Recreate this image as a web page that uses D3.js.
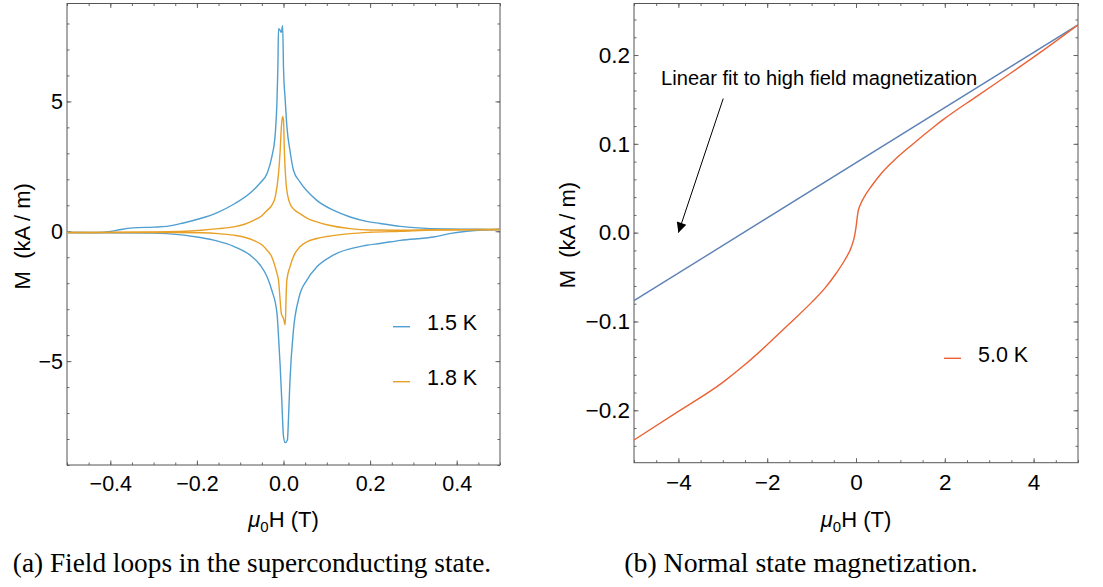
<!DOCTYPE html>
<html>
<head>
<meta charset="utf-8">
<script src="https://cdnjs.cloudflare.com/ajax/libs/d3/7.8.5/d3.min.js"></script>
<style>
body { margin: 0; background: #fff; }
text { font-family: "Liberation Sans", Arial, sans-serif; fill: #000; white-space: pre; }
.caption { font-family: "Liberation Serif", "Times New Roman", serif; }
</style>
</head>
<body>
<svg id="fig" width="1103" height="587"></svg>
<script>
// ---- data: (a) field loops, [mu0H (T), M (kA/m)]
const loop15_upper = [[-0.5,-0.05],[-0.43,-0.045],[-0.4,-0.01],[-0.375,0.07],[-0.347,0.13],[-0.3,0.16],[-0.269,0.19],[-0.231,0.32],[-0.192,0.49],
    [-0.154,0.71],[-0.115,1.04],[-0.077,1.47],[-0.054,1.86],[-0.038,2.22],[-0.027,2.86],[-0.019,3.76],[-0.015,5.04],
    [-0.013,6.3],[-0.0115,7.8],[-0.008,7.74],[-0.005,7.66],[-0.002,7.92],[0.0,6.3],[0.004,5.04],[0.008,4.0],[0.015,3.1],
    [0.023,2.35],[0.038,1.9],[0.077,1.19],[0.115,0.81],[0.154,0.55],[0.192,0.38],[0.223,0.3],[0.27,0.19],[0.32,0.12],
    [0.38,0.09],[0.43,0.08],[0.48,0.07],[0.5,0.08]];
const loop15_lower = [[-0.5,-0.05],[-0.4,-0.06],[-0.3,-0.07],[-0.269,-0.09],[-0.192,-0.24],[-0.154,-0.37],[-0.115,-0.58],
    [-0.077,-0.92],[-0.054,-1.3],[-0.038,-1.75],[-0.027,-2.27],[-0.015,-3.17],[-0.011,-4.2],[-0.008,-5.09],[-0.004,-6.5],
    [0.0,-7.9],[0.004,-8.14],[0.009,-8.04],[0.012,-7.0],[0.015,-5.73],[0.023,-3.8],[0.035,-2.6],[0.054,-1.88],[0.077,-1.37],
    [0.115,-0.92],[0.192,-0.54],[0.223,-0.47],[0.27,-0.35],[0.346,-0.22],[0.39,-0.07],[0.423,0.0],[0.46,0.05],[0.5,0.07]];
const loop18_upper = [[-0.5,-0.05],[-0.3,-0.03],[-0.19,0.04],[-0.15,0.1],[-0.115,0.17],[-0.09,0.27],[-0.069,0.42],
    [-0.05,0.6],[-0.038,0.8],[-0.027,1.0],[-0.019,1.32],[-0.0115,2.22],[-0.0077,3.1],[-0.005,4.0],[-0.002,4.42],
    [0.0,4.27],[0.002,3.1],[0.006,1.83],[0.01,1.35],[0.015,1.06],[0.025,0.83],[0.038,0.68],[0.055,0.5],[0.077,0.36],
    [0.1,0.25],[0.154,0.1],[0.2,0.05],[0.27,0.04],[0.35,0.06],[0.5,0.07]];
const loop18_lower = [[-0.5,-0.05],[-0.3,-0.05],[-0.19,-0.06],[-0.15,-0.09],[-0.115,-0.15],[-0.09,-0.23],[-0.069,-0.35],
    [-0.05,-0.52],[-0.038,-0.73],[-0.027,-0.99],[-0.015,-1.63],[-0.0115,-1.88],[-0.008,-2.6],[-0.005,-3.17],[0.0,-3.36],
    [0.004,-3.6],[0.006,-2.53],[0.0077,-1.88],[0.015,-1.37],[0.025,-0.9],[0.038,-0.6],[0.055,-0.4],[0.077,-0.28],
    [0.1,-0.2],[0.154,-0.09],[0.2,-0.04],[0.27,0.0],[0.35,0.05],[0.5,0.07]];

// ---- data: (b) normal state, 5.0 K
const m50 = [[-5,-0.2334],[-4,-0.2012],[-3,-0.1685],[-2.5,-0.1485],[-2,-0.1262],[-1.5,-0.1025],[-1.0,-0.0785],
    [-0.7,-0.0625],[-0.45,-0.046],[-0.25,-0.0305],[-0.1,-0.0155],[-0.03,-0.003],[0.0,0.006],[0.03,0.018],[0.05,0.0245],
    [0.09,0.0305],[0.2,0.0415],[0.35,0.0525],[0.55,0.0655],[0.85,0.081],[1.25,0.0985],[1.75,0.119],
    [1.97,0.1275],[2.72,0.1535],[3.48,0.1795],[4.23,0.2058],[5,0.234]];
const linearFit = [[-5,-0.0766],[5,0.234]];
const fitNote = { text: "Linear fit to high field magnetization", at: [-4.39,0.1663], from: [-2.99,0.151], to: [-4.0,0.0] };

// ---- ticks
const aTicksX = [-0.4,-0.2,0,0.2,0.4];
const aTicksY = [-5,0,5];
const bTicksX = [-4,-2,0,2,4];
const bTicksY = [-0.2,-0.1,0,0.1,0.2];

const svg = d3.select('#fig');

function framedPlot(cfg) {
    const x = d3.scaleLinear().domain(cfg.xDomain).range([cfg.left, cfg.right]);
    const y = d3.scaleLinear().domain(cfg.yDomain).range([cfg.bottom, cfg.top]);
    const g = svg.append('g');
    const clipId = 'clip' + cfg.name;
    svg.append('clipPath').attr('id', clipId).append('rect')
        .attr('x', cfg.left).attr('y', cfg.top)
        .attr('width', cfg.right - cfg.left).attr('height', cfg.bottom - cfg.top);

    const minorX = d3.range(cfg.xDomain[0], cfg.xDomain[1] + 1e-9, cfg.xMinor);
    const minorY = d3.range(Math.ceil(cfg.yDomain[0] / cfg.yMinor) * cfg.yMinor, cfg.yDomain[1] + 1e-9, cfg.yMinor);

    const axes = [
        [d3.axisBottom(x), 'translate(0,' + cfg.bottom + ')', cfg.xTicks, minorX, cfg.xFmt, 11],
        [d3.axisTop(x), 'translate(0,' + cfg.top + ')', cfg.xTicks, minorX, null, 0],
        [d3.axisLeft(y), 'translate(' + cfg.left + ',0)', cfg.yTicks, minorY, cfg.yFmt, 4],
        [d3.axisRight(y), 'translate(' + cfg.right + ',0)', cfg.yTicks, minorY, null, 0]
    ];
    axes.forEach(([ax, tr, major, minor, fmt, pad]) => {
        const mg = g.append('g').attr('transform', tr)
            .call(ax.tickValues(minor).tickSize(-2.5).tickFormat(''));
        mg.select('.domain').remove();
        mg.selectAll('line').attr('stroke', '#666');
        const ag = g.append('g').attr('transform', tr)
            .call(ax.tickValues(major).tickSize(-4.5).tickPadding(pad).tickFormat(fmt ? fmt : ''));
        ag.select('.domain').remove();
        ag.selectAll('line').attr('stroke', '#666');
        ag.attr('font-family', null).attr('font-size', null);
        ag.selectAll('text').style('font-size', cfg.fontSize + 'px');
    });

    g.append('rect')
        .attr('x', cfg.left).attr('y', cfg.top)
        .attr('width', cfg.right - cfg.left).attr('height', cfg.bottom - cfg.top)
        .attr('fill', 'none').attr('stroke', '#555').attr('stroke-width', 1);

    // axis labels
    const xl = g.append('text').attr('x', (cfg.left + cfg.right) / 2).attr('y', 527)
        .attr('text-anchor', 'middle').style('font-size', '22px');
    xl.append('tspan').attr('font-style', 'italic').text('\u03bc');
    xl.append('tspan').attr('dy', 5).style('font-size', '15px').text('0');
    xl.append('tspan').attr('dy', -5).text('H (T)');

    g.append('text')
        .attr('transform', 'translate(' + cfg.yLabelX + ',' + ((cfg.top + cfg.bottom) / 2 + 2) + ') rotate(-90)')
        .attr('text-anchor', 'middle').attr('dominant-baseline', 'central')
        .style('font-size', '22px').text('M  (kA / m)');

    const plot = g.append('g').attr('clip-path', 'url(#' + clipId + ')');
    const line = d3.line().curve(d3.curveMonotoneX).x(d => x(d[0])).y(d => y(d[1]));
    return { x, y, g, plot, line };
}

function legend(g, lx, ly, color, label) {
    g.append('line').attr('x1', lx).attr('x2', lx + 17).attr('y1', ly).attr('y2', ly)
        .attr('stroke', color).attr('stroke-width', 1.4);
    g.append('text').attr('x', lx + 34).attr('y', ly + 3.5).style('font-size', '21.5px').text(label);
}

// ---- (a)
const pa = framedPlot({
    name: 'a', left: 67, right: 500, top: 3.5, bottom: 465,
    xDomain: [-0.5, 0.5], yDomain: [-9.0, 8.77], xMinor: 0.05, yMinor: 1,
    xTicks: aTicksX, yTicks: aTicksY, xFmt: d3.format('.1f'), yFmt: d3.format('d'),
    fontSize: 21.5, yLabelX: 22
});
const blue15 = '#509fd0', orange18 = '#e9a026';
[[loop15_upper, blue15], [loop15_lower, blue15], [loop18_upper, orange18], [loop18_lower, orange18]].forEach(([d, c]) => {
    pa.plot.append('path').attr('d', pa.line(d)).attr('fill', 'none')
        .attr('stroke', c).attr('stroke-width', 1.4).attr('stroke-linejoin', 'round');
});
legend(pa.g, 393, 326.7, blue15, '1.5 K');
legend(pa.g, 393, 381.7, orange18, '1.8 K');

// ---- (b)
const pb = framedPlot({
    name: 'b', left: 634, right: 1078, top: 3.5, bottom: 462.7,
    xDomain: [-5, 5], yDomain: [-0.259, 0.258], xMinor: 0.5, yMinor: 0.02,
    xTicks: bTicksX, yTicks: bTicksY, xFmt: d3.format('d'), yFmt: d3.format('.1f'),
    fontSize: 22.5, yLabelX: 567
});
pb.plot.append('path').attr('d', pb.line(linearFit)).attr('fill', 'none')
    .attr('stroke', '#5e81b5').attr('stroke-width', 1.4);
pb.plot.append('path').attr('d', pb.line(m50)).attr('fill', 'none')
    .attr('stroke', '#eb6235').attr('stroke-width', 1.4).attr('stroke-linejoin', 'round');
legend(pb.g, 944, 358.3, '#eb6235', '5.0 K');

// annotation with arrow
svg.append('defs').append('marker').attr('id', 'arrowhead')
    .attr('viewBox', '0 0 10 10').attr('refX', 10).attr('refY', 5)
    .attr('markerWidth', 16).attr('markerHeight', 10).attr('markerUnits', 'userSpaceOnUse')
    .attr('orient', 'auto')
    .append('path').attr('d', 'M0,0 L10,5 L0,10 Z').attr('fill', '#000');
pb.g.append('line')
    .attr('x1', pb.x(fitNote.from[0])).attr('y1', pb.y(fitNote.from[1]))
    .attr('x2', pb.x(fitNote.to[0])).attr('y2', pb.y(fitNote.to[1]))
    .attr('stroke', '#000').attr('stroke-width', 1).attr('marker-end', 'url(#arrowhead)');
pb.g.append('text').attr('x', pb.x(fitNote.at[0])).attr('y', pb.y(fitNote.at[1]))
    .style('font-size', '20.1px').text(fitNote.text);

// ---- captions
svg.append('text').attr('class', 'caption').attr('x', 252).attr('y', 572)
    .attr('text-anchor', 'middle').style('font-size', '27.3px')
    .text('(a) Field loops in the superconducting state.');
svg.append('text').attr('class', 'caption').attr('x', 801).attr('y', 572)
    .attr('text-anchor', 'middle').style('font-size', '27.8px')
    .text('(b) Normal state magnetization.');
</script>
</body>
</html>
